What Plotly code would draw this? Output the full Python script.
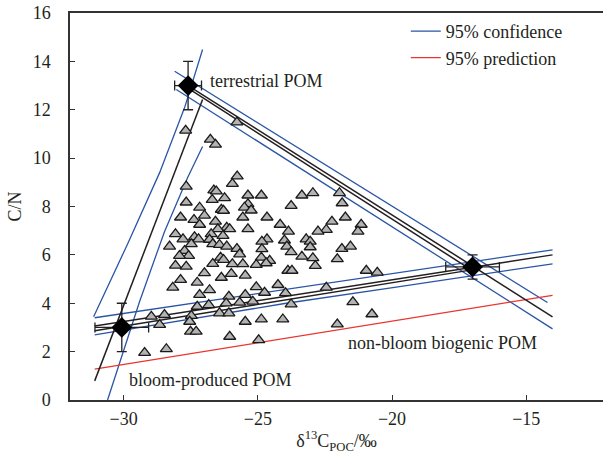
import plotly.graph_objects as go

# Suspended POM samples: δ13C_POC (‰) and C/N
d13c_samples = [
    -25.77, -25.95, -27.67, -26.64, -26.55, -25.37, -24.87, -23.36, -22.95, -21.96,
    -26.24, -26.70, -27.67, -25.37, -23.76, -21.86, -27.17, -25.50, -26.36, -26.28,
    -25.25, -26.99, -27.88, -25.56, -24.66, -21.74, -27.38, -26.58, -22.24, -27.17,
    -24.17, -26.16, -26.05, -21.15, -26.49, -22.45, -25.37, -23.86, -22.76, -21.27,
    -28.07, -26.74, -26.30, -27.36, -27.79, -24.66, -27.21, -26.80, -23.20, -24.01,
    -24.85, -23.05, -27.48, -26.68, -26.43, -28.29, -26.16, -23.92, -23.05, -21.87,
    -21.55, -25.78, -24.85, -27.73, -23.76, -25.68, -27.58, -27.92, -23.36, -26.39,
    -24.87, -22.04, -22.95, -24.56, -26.28, -26.68, -25.95, -25.56, -28.07, -27.67,
    -25.06, -24.69, -22.86, -23.88, -23.73, -20.96, -20.55, -26.99, -25.99, -25.47,
    -26.36, -27.88, -27.26, -24.25, -28.17, -26.80, -25.06, -22.45, -27.17, -26.08,
    -25.47, -24.75, -23.97, -21.46, -23.76, -25.68, -25.19, -26.83, -27.26, -26.43,
    -26.08, -27.48, -28.48, -28.97, -20.75, -25.47, -24.87, -24.07, -22.04, -27.54,
    -28.66, -27.69, -26.77, -26.58, -25.78, -27.51, -27.30, -26.05, -24.97, -28.41,
    -29.22, -26.18,
]
cn_samples = [
    9.25, 8.94, 8.83, 8.67, 8.63, 8.46, 8.46, 8.46, 8.56, 8.56,
    8.35, 8.28, 8.17, 8.10, 8.03, 8.14, 7.96, 7.96, 7.87, 7.83,
    7.84, 7.63, 7.55, 7.55, 7.55, 7.55, 7.45, 7.38, 7.38, 7.25,
    7.25, 7.13, 7.07, 7.25, 7.07, 7.04, 7.07, 6.97, 6.97, 6.97,
    6.86, 6.86, 6.79, 6.74, 6.65, 6.65, 6.65, 6.63, 6.65, 6.60,
    6.55, 6.55, 6.45, 6.45, 6.42, 6.35, 6.35, 6.35, 6.32, 6.25,
    6.35, 6.25, 6.24, 6.17, 6.12, 6.03, 5.96, 5.96, 5.93, 5.89,
    5.89, 5.83, 5.87, 5.76, 5.80, 5.63, 5.62, 5.62, 5.56, 5.52,
    5.59, 5.66, 5.55, 5.35, 5.35, 5.35, 5.27, 5.25, 5.22, 5.15,
    5.06, 4.97, 4.86, 4.76, 4.65, 4.55, 4.67, 4.65, 4.35, 4.28,
    4.35, 4.44, 4.42, 4.05, 3.96, 4.03, 4.07, 3.93, 3.86, 3.59,
    3.59, 3.48, 3.52, 3.45, 3.55, 3.24, 3.34, 3.34, 3.13, 3.24,
    3.11, 11.14, 10.77, 10.56, 11.48, 2.83, 2.83, 2.62, 2.48, 2.11,
    1.95, 4.00,
]

# End-members (mean ± SD)
em_names = ["terrestrial POM", "bloom-produced POM", "non-bloom biogenic POM"]
em_d13c = [-27.6, -30.07, -17.0]
em_cn = [13.0, 3.0, 5.5]
em_d13c_sd = [0.5, 1.0, 1.0]
em_cn_sd = [1.0, 1.0, 0.5]

# Terrestrial – non-bloom side
ta_fit_x = [-27.6, -14.02]
ta_fit_y = [13.0, 3.44]
ta_mix_x = [-27.55, -17.05]
ta_mix_y = [12.85, 5.38]
ta_ci_up_x = [-28.10, -14.21]
ta_ci_up_y = [13.59, 4.03]
ta_ci_lo_x = [-28.04, -14.02]
ta_ci_lo_y = [12.84, 2.94]

# Bloom – non-bloom side
bn_fit_x = [-31.08, -14.02]
bn_fit_y = [3.06, 6.00]
bn_mix_x = [-31.08, -17.03]
bn_mix_y = [2.86, 5.38]
bn_ci_up_x = [-31.08, -24.0, -19.72, -14.02]
bn_ci_up_y = [3.40, 4.56, 5.27, 6.21]
bn_ci_lo_x = [-31.08, -24.0, -19.72, -14.02]
bn_ci_lo_y = [2.69, 3.99, 4.69, 5.63]
bn_pi_x = [-31.08, -14.02]
bn_pi_y = [1.28, 4.33]

# Bloom – terrestrial side
bt_fit_x = [-31.08, -27.06]
bt_fit_y = [0.79, 12.42]
bt_ci_up_x = [-31.12, -29.85, -28.66, -27.73, -27.06]
bt_ci_up_y = [3.44, 6.46, 9.40, 12.09, 14.49]
bt_ci_lo_x = [-30.60, -29.41, -28.48, -27.62, -27.06]
bt_ci_lo_y = [0.0, 4.06, 6.96, 9.19, 10.48]

FONT = "Liberation Serif, Times New Roman, serif"
INK = "#231f20"
BLUE = "#2a55a5"
RED = "#e8352d"

fig = go.Figure()


def add_line(x, y, color, width, name=None):
    fig.add_trace(go.Scatter(
        x=x, y=y, mode="lines",
        line=dict(color=color, width=width),
        name=name, showlegend=name is not None, hoverinfo="skip",
    ))


# confidence bands (blue), one carries the legend entry
add_line(ta_ci_up_x, ta_ci_up_y, BLUE, 1.3, "95% confidence")
add_line(ta_ci_lo_x, ta_ci_lo_y, BLUE, 1.3)
add_line(bn_ci_up_x, bn_ci_up_y, BLUE, 1.3)
add_line(bn_ci_lo_x, bn_ci_lo_y, BLUE, 1.3)
add_line(bt_ci_up_x, bt_ci_up_y, BLUE, 1.3)
add_line(bt_ci_lo_x, bt_ci_lo_y, BLUE, 1.3)
# prediction band (red)
add_line(bn_pi_x, bn_pi_y, RED, 1.3, "95% prediction")
# fitted and mixing lines (black)
add_line(ta_fit_x, ta_fit_y, INK, 1.5)
add_line(ta_mix_x, ta_mix_y, INK, 1.5)
add_line(bn_fit_x, bn_fit_y, INK, 1.5)
add_line(bn_mix_x, bn_mix_y, INK, 1.5)
add_line(bt_fit_x, bt_fit_y, INK, 1.5)

# samples
fig.add_trace(go.Scatter(
    x=d13c_samples, y=cn_samples, mode="markers", showlegend=False,
    marker=dict(symbol="triangle-up", size=10.5, color="#b3b3b3",
                line=dict(color="#1a1a1a", width=1.3)),
))

# end-members with error bars
fig.add_trace(go.Scatter(
    x=em_d13c, y=em_cn, mode="markers", showlegend=False,
    marker=dict(symbol="diamond", size=16, color="black"),
    error_x=dict(type="data", array=em_d13c_sd, color=INK, thickness=1.3, width=5),
    error_y=dict(type="data", array=em_cn_sd, color=INK, thickness=1.3, width=5),
))

label_pos = [(-26.87, 13.2), (-29.89, 0.83), (-21.73, 2.35)]
for name, (lx, ly) in zip(em_names, label_pos):
    fig.add_annotation(x=lx, y=ly, text=name, showarrow=False, xanchor="left",
                       yanchor="middle", font=dict(family=FONT, size=18, color=INK))

axis_common = dict(
    showline=True, linecolor="#333333", linewidth=1.5,
    ticks="inside", ticklen=5, tickwidth=1.3, tickcolor="#333333",
    showgrid=False, zeroline=False,
    tickfont=dict(family=FONT, size=18, color=INK),
)

fig.update_layout(
    width=603, height=463,
    margin=dict(l=70, r=0, t=13, b=63),
    paper_bgcolor="white", plot_bgcolor="white",
    font=dict(family=FONT, size=18, color=INK),
    xaxis=dict(range=[-32, -12.14], tickvals=[-30, -25, -20, -15], mirror=True,
               ticklabelstandoff=2,
               title=dict(text="δ<sup>13</sup>C<sub>POC</sub>/‰",
                          font=dict(family=FONT, size=18, color=INK), standoff=6),
               **axis_common),
    yaxis=dict(range=[0, 16], dtick=2, ticklabelstandoff=14,
               title=dict(text="C/N", font=dict(family=FONT, size=18, color=INK), standoff=6),
               **axis_common),
    legend=dict(x=0.63, y=1.0, xanchor="left", yanchor="top",
                bgcolor="rgba(0,0,0,0)", font=dict(family=FONT, size=18, color=INK),
                tracegroupgap=0, itemwidth=30),
)

fig.write_html("out.html")
